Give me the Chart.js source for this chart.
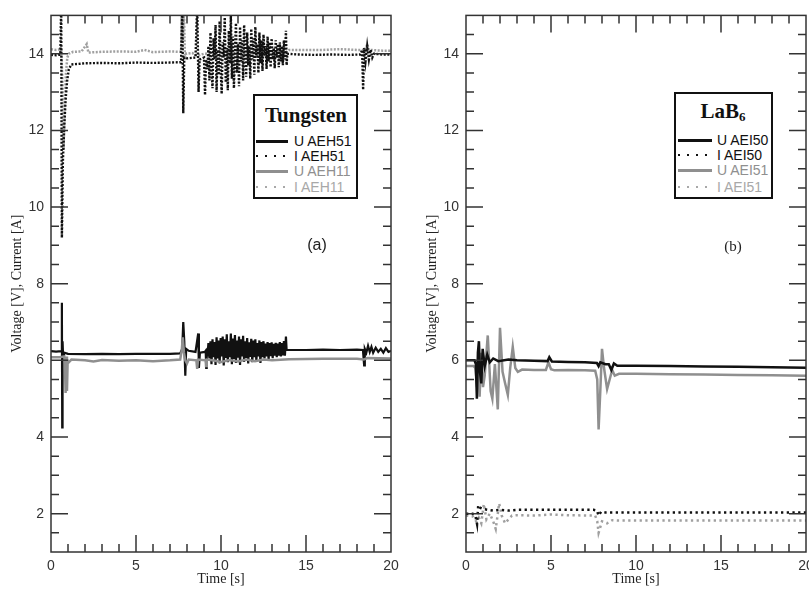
<!DOCTYPE html>
<html>
<head>
<meta charset="utf-8">
<script src="https://cdn.jsdelivr.net/npm/chart.js@4.4.1/dist/chart.umd.min.js"></script>
<style>
html, body { margin: 0; padding: 0; width: 809px; height: 590px; overflow: hidden; background: #fff; }
canvas { position: absolute; top: 0; }
#chartA { left: 0; }
#chartB { left: 415px; }
.box { position: absolute; border: 2px solid #111; background: #fff; box-sizing: border-box; }
.head { position: absolute; font-family: 'Liberation Serif', serif; font-weight: bold; font-size: 21px; line-height: 24px; color: #111; white-space: nowrap; transform: translateX(-50%); }
.head sub { font-size: 13px; vertical-align: -3px; line-height: 0; }
.row { position: absolute; font-family: 'Liberation Sans', Arial, sans-serif; font-size: 14px; line-height: 14px; white-space: nowrap; }
.solid { position: absolute; height: 3px; }
.dots { position: absolute; height: 2px; }
.tag { position: absolute; font-size: 16px; line-height: 18px; color: #222; transform: translate(-50%, -50%); }
.sans { font-family: 'Liberation Sans', Arial, sans-serif; }
.serif { font-family: 'Liberation Serif', serif; }
</style>
</head>
<body>
<canvas id="chartA" width="405" height="590"></canvas>
<canvas id="chartB" width="405" height="590"></canvas>

<!-- legend (a) -->
<div class="box" style="left:253px;top:94px;width:105px;height:105px;"></div>
<div class="head" style="left:306px;top:103px;">Tungsten</div>
<div class="solid" style="left:256px;top:140px;width:32px;background:#111;"></div>
<div class="row" style="left:294px;top:134px;color:#111;">U AEH51</div>
<div class="dots" style="left:256px;top:155px;width:32px;background:repeating-linear-gradient(to right,#111 0 2px,transparent 2px 9px);"></div>
<div class="row" style="left:294px;top:149px;color:#111;">I AEH51</div>
<div class="solid" style="left:256px;top:170px;width:32px;background:#8f8f8f;"></div>
<div class="row" style="left:294px;top:164px;color:#8f8f8f;">U AEH11</div>
<div class="dots" style="left:256px;top:186px;width:32px;background:repeating-linear-gradient(to right,#a8a8a8 0 2px,transparent 2px 9px);"></div>
<div class="row" style="left:294px;top:180px;color:#a8a8a8;">I AEH11</div>
<div class="tag sans" style="left:317px;top:245px;">(a)</div>

<!-- legend (b) -->
<div class="box" style="left:674px;top:92px;width:99px;height:107px;"></div>
<div class="head" style="left:723px;top:99px;">LaB<sub>6</sub></div>
<div class="solid" style="left:678px;top:139px;width:34px;background:#111;"></div>
<div class="row" style="left:717px;top:133px;color:#111;">U AEI50</div>
<div class="dots" style="left:678px;top:154px;width:34px;background:repeating-linear-gradient(to right,#111 0 2px,transparent 2px 9px);"></div>
<div class="row" style="left:717px;top:148px;color:#111;">I AEI50</div>
<div class="solid" style="left:678px;top:169px;width:34px;background:#8f8f8f;"></div>
<div class="row" style="left:717px;top:163px;color:#8f8f8f;">U AEI51</div>
<div class="dots" style="left:678px;top:186px;width:34px;background:repeating-linear-gradient(to right,#a8a8a8 0 2px,transparent 2px 9px);"></div>
<div class="row" style="left:717px;top:180px;color:#a8a8a8;">I AEI51</div>
<div class="tag serif" style="left:733px;top:246px;font-size:15px;">(b)</div>

<script>
// axis ticks
const xTicks = [0, 5, 10, 15, 20];
const yTicks = [2, 4, 6, 8, 10, 12, 14];

// ---- panel (a) Tungsten ----
// arc burst between ~9.2 s and ~13.8 s
const burstT = [
  9.20, 9.26, 9.32, 9.38, 9.44, 9.50,
  9.56, 9.62, 9.68, 9.74, 9.80, 9.86,
  9.92, 9.98, 10.04, 10.10, 10.16, 10.22,
  10.28, 10.34, 10.40, 10.46, 10.52, 10.58,
  10.64, 10.70, 10.76, 10.82, 10.88, 10.94,
  11.00, 11.06, 11.12, 11.18, 11.24, 11.30,
  11.36, 11.42, 11.48, 11.54, 11.60, 11.66,
  11.72, 11.78, 11.84, 11.90, 11.96, 12.02,
  12.08, 12.14, 12.20, 12.26, 12.32, 12.38,
  12.44, 12.50, 12.56, 12.62, 12.68, 12.74,
  12.80, 12.86, 12.92, 12.98, 13.04, 13.10,
  13.16, 13.22, 13.28, 13.34, 13.40, 13.46,
  13.52, 13.58, 13.64, 13.70, 13.76, 13.82
];

// U AEH51
const tU_AEH51 = [0, 0.3, 0.6, 0.64, 0.66, 0.68, 0.72, 0.78, 1, 2, 3, 4, 5, 6, 7, 7.6, 7.72, 7.78, 7.84, 7.9, 7.95, 8.1, 8.5, 8.66, 8.7, 8.76, 9.05, 9.1, 9.13, 9.16]
  .concat(burstT, [13.86, 14, 15, 16, 17, 18, 18.35, 18.42, 18.46, 18.55, 18.65, 18.75, 18.85, 18.95, 19.1, 19.25, 19.4, 19.55, 19.7, 19.85, 20]);
const vU_AEH51 = [6.24, 6.23, 6.24, 7.5, 4.25, 6.5, 6.0, 6.2, 6.17, 6.16, 6.17, 6.16, 6.17, 6.17, 6.17, 6.18, 6.3, 7.0, 6.5, 5.6, 6.3, 6.25, 6.22, 6.7, 5.8, 6.2, 6.22, 6.25, 5.8, 6.3].concat([
  6.10, 6.45, 6.05, 6.50, 5.90, 6.55,
  6.08, 6.48, 5.88, 6.60, 6.05, 6.52,
  5.92, 6.58, 6.10, 6.62, 5.87, 6.55,
  6.06, 6.68, 5.95, 6.50, 6.08, 6.70,
  5.90, 6.57, 6.04, 6.66, 5.93, 6.52,
  6.07, 6.62, 5.88, 6.55, 6.10, 6.64,
  5.96, 6.50, 6.06, 6.58, 5.92, 6.47,
  6.09, 6.56, 5.95, 6.52, 6.08, 6.55,
  5.98, 6.45, 6.10, 6.52, 5.93, 6.48,
  6.08, 6.50, 6.05, 6.44, 6.10, 6.48,
  6.02, 6.45, 6.11, 6.47, 6.06, 6.43,
  6.12, 6.46, 6.08, 6.44, 6.12, 6.48,
  6.10, 6.45, 6.13, 6.50, 6.12, 6.62
], [6.27, 6.27, 6.27, 6.28, 6.27, 6.28, 6.27, 5.87, 6.3, 6.2, 6.38, 6.22, 6.35, 6.2, 6.33, 6.22, 6.3, 6.2, 6.32, 6.22, 6.25]);

// I AEH51
const tI_AEH51 = [0, 0.3, 0.55, 0.6, 0.64, 0.7, 0.78, 0.86, 0.95, 1.05, 1.2, 2, 3, 4, 5, 6, 7, 7.65, 7.72, 7.78, 7.84, 8.0, 8.5, 8.6, 8.68, 8.74, 9.0, 9.06, 9.12]
  .concat(burstT, [13.86, 13.9, 14.5, 15.5, 16.5, 17.5, 18.2, 18.3, 18.36, 18.42, 18.5, 18.6, 18.7, 18.8, 18.9, 19.0, 19.5, 20]);
const vI_AEH51 = [13.97, 13.96, 13.98, 15.3, 9.2, 11.2, 12.1, 12.8, 13.3, 13.6, 13.72, 13.75, 13.76, 13.75, 13.77, 13.76, 13.77, 13.78, 15.3, 12.45, 13.9, 13.88, 13.9, 15.3, 13.0, 13.85, 13.9, 12.92, 13.85].concat([
  13.60, 14.20, 13.30, 14.55, 13.70, 13.10,
  14.40, 13.85, 14.75, 13.00, 14.10, 13.45,
  14.85, 13.60, 12.95, 14.30, 13.90, 14.95,
  13.25, 14.15, 13.05, 14.60, 13.75, 15.00,
  13.35, 14.45, 13.10, 14.05, 14.80, 13.50,
  14.25, 13.15, 14.70, 13.80, 14.35, 13.30,
  14.75, 13.95, 13.40, 14.55, 13.70, 14.20,
  13.35, 14.65, 13.85, 14.40, 13.45, 14.70,
  13.90, 14.25, 13.50, 14.55, 13.75, 14.35,
  13.55, 14.50, 13.95, 14.20, 13.60, 14.45,
  13.80, 14.30, 13.65, 14.40, 13.85, 14.15,
  13.62, 14.35, 13.90, 14.25, 13.65, 14.30,
  13.80, 14.20, 13.70, 14.35, 13.85, 14.60
], [13.70, 14.0, 13.98, 13.97, 13.98, 13.97, 13.98, 14.1, 13.06, 14.15, 13.8, 14.2, 13.85, 14.1, 13.9, 14.0, 13.98, 13.98]);

// U AEH11
const tU_AEH11 = [0, 0.5, 0.78, 0.82, 0.86, 0.9, 0.94, 0.98, 1.05, 1.2, 2, 2.5, 3, 4, 5, 6, 7, 7.6, 7.7, 7.75, 7.82, 7.9, 8.0, 8.1, 8.55, 8.6, 8.65, 9.1, 9.12, 9.16, 9.5, 10, 10.5, 11, 11.5, 12, 12.5, 13, 14, 16, 18, 18.4, 18.6, 20];
const vU_AEH11 = [6.08, 6.08, 6.1, 5.9, 5.15, 6.1, 5.2, 6.0, 5.95, 6.02, 6.0, 5.97, 6.01, 5.99, 6.0, 5.98, 6.0, 6.02, 6.3, 6.6, 6.2, 6.0, 5.92, 6.02, 6.0, 5.78, 6.02, 6.0, 5.85, 6.02, 6.0, 5.96, 6.01, 5.97, 6.02, 5.98, 6.02, 6.0, 6.03, 6.04, 6.04, 6.02, 6.06, 6.05];

// I AEH11
const tI_AEH11 = [0, 0.3, 0.6, 0.68, 0.74, 0.8, 0.88, 0.96, 1.05, 1.3, 1.8, 2.1, 2.2, 3, 4, 5, 5.5, 6, 7, 7.65, 7.7, 7.76, 7.82, 7.88, 7.95, 8.3, 8.6, 9, 10, 11, 12, 13, 13.85, 14, 15, 16, 17, 18, 18.5, 18.6, 18.7, 19.5, 20];
const vI_AEH11 = [14.12, 14.1, 14.12, 13.2, 11.5, 12.6, 13.5, 13.9, 14.0, 14.05, 14.06, 14.25, 14.03, 14.05, 14.06, 14.05, 14.1, 14.04, 14.06, 14.05, 15.3, 14.3, 15.1, 13.85, 14.0, 14.02, 13.95, 14.0, 14.02, 14.0, 14.03, 14.02, 14.05, 14.1, 14.1, 14.1, 14.12, 14.1, 14.1, 14.25, 14.1, 14.08, 14.08];

// ---- panel (b) LaB6 ----
const tU_AEI50 = [0, 0.5, 0.58, 0.64, 0.7, 0.76, 0.82, 0.9, 0.98, 1.1, 1.25, 1.4, 1.6, 1.9, 2.5, 3, 4, 4.8, 4.9, 5.05, 6, 7, 7.7, 7.8, 7.9, 8.2, 8.4, 8.55, 8.7, 8.9, 10, 12, 14, 16, 18, 20];
const vU_AEI50 = [6.0, 6.0, 5.9, 5.0, 6.2, 6.5, 5.7, 5.4, 6.3, 5.85, 6.15, 5.95, 6.05, 5.98, 6.02, 6.0, 5.99, 5.98, 6.08, 5.97, 5.96, 5.95, 5.93, 5.85, 5.95, 5.9, 5.9, 5.75, 5.92, 5.86, 5.86, 5.85, 5.84, 5.83, 5.82, 5.81];

const tI_AEI50 = [0, 0.4, 0.55, 0.65, 0.72, 0.85, 1.0, 1.3, 1.6, 2.0, 2.5, 3.0, 5, 7.5, 7.7, 7.8, 7.95, 8.2, 10, 15, 20];
const vI_AEI50 = [2.0, 2.0, 1.95, 1.73, 2.22, 2.15, 2.12, 2.1, 2.08, 2.1, 2.08, 2.1, 2.1, 2.1, 2.08, 1.95, 2.05, 2.03, 2.03, 2.03, 2.03];

const tU_AEI51 = [0, 0.45, 0.55, 0.65, 0.72, 0.8, 0.9, 1.0, 1.1, 1.28, 1.45, 1.55, 1.7, 1.87, 2.0, 2.15, 2.3, 2.46, 2.6, 2.75, 2.9, 3.05, 3.3, 4.0, 4.7, 4.85, 5.0, 5.2, 6, 7, 7.6, 7.72, 7.8, 7.9, 8.0, 8.12, 8.3, 8.45, 8.6, 8.75, 9.0, 10, 12, 14, 16, 18, 20];
const vU_AEI51 = [5.85, 5.85, 5.8, 5.3, 5.9, 5.05, 6.2, 5.3, 5.6, 6.65, 5.2, 5.0, 5.9, 4.72, 6.85, 5.7, 5.4, 5.1, 5.8, 6.35, 5.8, 5.7, 5.76, 5.75, 5.75, 5.95, 5.77, 5.74, 5.75, 5.74, 5.73, 5.5, 4.2, 5.2, 6.3, 5.8, 5.25, 5.5, 5.75, 5.6, 5.65, 5.65, 5.64, 5.63, 5.62, 5.61, 5.6];

const tI_AEI51 = [0, 0.4, 0.6, 0.75, 0.9, 1.05, 1.2, 1.4, 1.6, 1.75, 1.95, 2.1, 2.3, 2.5, 2.7, 3, 4, 5, 6, 7.6, 7.72, 7.8, 7.9, 8.0, 8.3, 8.6, 9, 12, 16, 20];
const vI_AEI51 = [1.95, 1.93, 1.8, 1.9, 1.75, 2.25, 1.85, 2.0, 1.8, 1.6, 2.27, 1.95, 1.75, 1.85, 1.95, 1.96, 1.95, 1.98, 1.96, 1.95, 1.8, 1.5, 1.65, 1.8, 1.75, 1.83, 1.82, 1.82, 1.82, 1.82];

function pts(t, v) {
  return t.map((x, i) => ({ x: x, y: v[i] }));
}

const tickFont = { family: "'Liberation Sans', Arial, sans-serif", size: 14 };
const titleFont = { family: "'Liberation Serif', 'Times New Roman', serif", size: 14 };

// frame with inward ticks like the original plot
const frameTicks = {
  id: 'frameTicks',
  afterDraw(chart) {
    const { ctx, chartArea: a } = chart;
    const x = chart.scales.x, y = chart.scales.y;
    ctx.save();
    ctx.strokeStyle = '#333';
    ctx.lineWidth = 1.5;
    ctx.strokeRect(a.left, a.top, a.right - a.left, a.bottom - a.top);
    ctx.beginPath();
    for (let t = 1; t < 20; t++) {
      const px = x.getPixelForValue(t);
      const len = t % 5 === 0 ? 17 : 8;
      ctx.moveTo(px, a.bottom); ctx.lineTo(px, a.bottom - len);
      ctx.moveTo(px, a.top); ctx.lineTo(px, a.top + len);
    }
    for (let v = 1.5; v < 15; v += 0.5) {
      const py = y.getPixelForValue(v);
      const len = v % 2 === 0 ? 17 : 8;
      ctx.moveTo(a.left, py); ctx.lineTo(a.left + len, py);
      ctx.moveTo(a.right, py); ctx.lineTo(a.right - len, py);
    }
    ctx.stroke();
    ctx.restore();
  }
};

function makeChart(id, datasets) {
  return new Chart(document.getElementById(id).getContext('2d'), {
    type: 'line',
    data: { datasets: datasets },
    options: {
      responsive: false,
      animation: false,
      events: [],
      devicePixelRatio: 1,
      layout: { padding: { left: 0, top: 10, right: 14, bottom: 0 } },
      elements: { point: { radius: 0 }, line: { tension: 0 } },
      plugins: { legend: { display: false }, tooltip: { enabled: false } },
      scales: {
        x: {
          type: 'linear', min: 0, max: 20,
          afterBuildTicks: s => { s.ticks = xTicks.map(v => ({ value: v })); },
          afterFit: s => { s.height = 38; },
          grid: { display: false, drawTicks: false },
          border: { display: false },
          ticks: { font: tickFont, color: '#333', padding: 6, maxRotation: 0 },
          title: { display: true, text: 'Time [s]', font: titleFont, color: '#222', padding: { top: 0, bottom: 2 } }
        },
        y: {
          type: 'linear', min: 1, max: 15,
          afterBuildTicks: s => { s.ticks = yTicks.map(v => ({ value: v })); },
          afterFit: s => { s.width = 51; },
          grid: { display: false, drawTicks: false },
          border: { display: false },
          ticks: { font: tickFont, color: '#333', padding: 7 },
          title: { display: true, text: 'Voltage [V], Current [A]', font: titleFont, color: '#222', padding: { top: 9, bottom: 0 } }
        }
      }
    },
    plugins: [frameTicks]
  });
}

makeChart('chartA', [
  { label: 'U AEH11', data: pts(tU_AEH11, vU_AEH11), borderColor: '#8f8f8f', borderWidth: 2.5, order: 1 },
  { label: 'U AEH51', data: pts(tU_AEH51, vU_AEH51), borderColor: '#111', borderWidth: 2.2, order: 2 },
  { label: 'I AEH51', data: pts(tI_AEH51, vI_AEH51), borderColor: '#111', borderWidth: 2.4, borderDash: [2, 1.6], order: 3 },
  { label: 'I AEH11', data: pts(tI_AEH11, vI_AEH11), borderColor: '#a0a0a0', borderWidth: 2.5, borderDash: [2, 1.5], order: 4 }
]);

makeChart('chartB', [
  { label: 'U AEI50', data: pts(tU_AEI50, vU_AEI50), borderColor: '#111', borderWidth: 2.5, order: 1 },
  { label: 'U AEI51', data: pts(tU_AEI51, vU_AEI51), borderColor: '#8f8f8f', borderWidth: 2.5, order: 2 },
  { label: 'I AEI50', data: pts(tI_AEI50, vI_AEI50), borderColor: '#111', borderWidth: 2.5, borderDash: [2.3, 3.4], order: 3 },
  { label: 'I AEI51', data: pts(tI_AEI51, vI_AEI51), borderColor: '#a0a0a0', borderWidth: 2.5, borderDash: [2.3, 3.4], order: 4 }
]);
</script>
</body>
</html>
